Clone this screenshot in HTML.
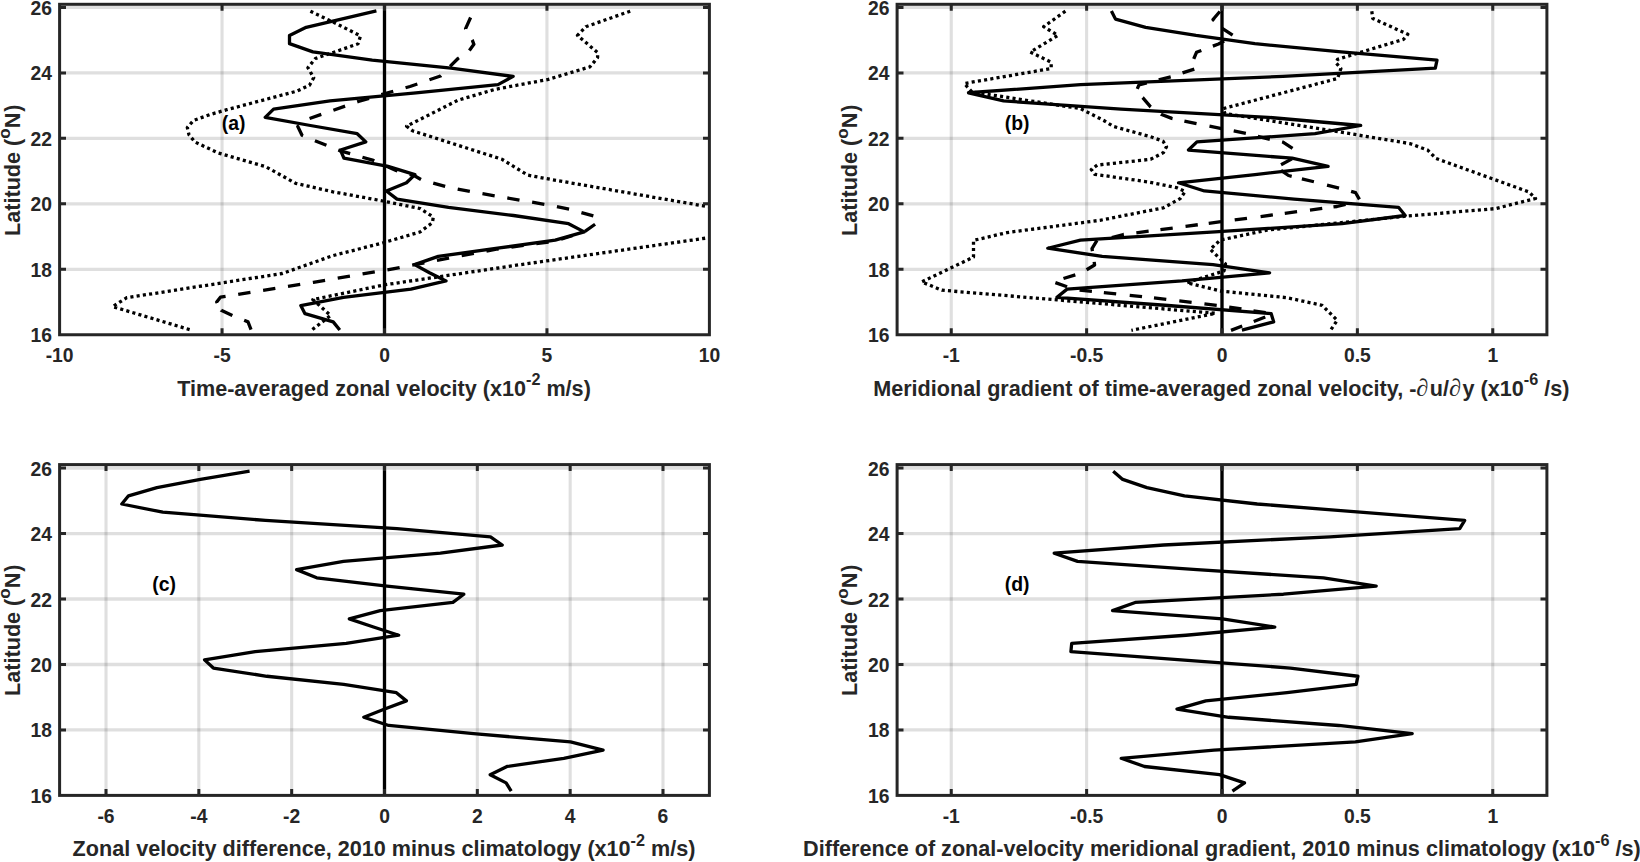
<!DOCTYPE html>
<html lang="en"><head><meta charset="utf-8"><title>Zonal velocity figure</title>
<style>html,body{margin:0;padding:0;background:#fff;}body{width:1640px;height:862px;overflow:hidden;}svg{display:block;}text{font-family:"Liberation Sans", sans-serif;font-weight:bold;fill:#262626;}.pd{font-family:"Liberation Serif","DejaVu Serif",serif;font-weight:normal;font-size:24.5px;letter-spacing:1.4px;}.ax{stroke:#262626;stroke-width:3;fill:none;stroke-linecap:butt;}.gr{stroke:#262626;stroke-opacity:.15;stroke-width:3.3;fill:none;}.d{stroke:#000;stroke-width:3.3;fill:none;stroke-linejoin:round;stroke-linecap:butt;}.dot{stroke-dasharray:3.1 3.2;}.dash{stroke-dasharray:12.4 12.8;}.tk{font-size:19.3px;}.lb{font-size:21.6px;}.pl{font-size:19.4px;fill:#000;}</style></head><body>
<svg width="1640" height="862" viewBox="0 0 1640 862">
<rect x="0" y="0" width="1640" height="862" fill="#fff"/>
<defs>
<clipPath id="cpa"><rect x="59.6" y="4.3" width="649.8" height="330.45"/></clipPath>
<clipPath id="cpb"><rect x="897.1" y="4.3" width="649.8" height="330.45"/></clipPath>
<clipPath id="cpc"><rect x="59.6" y="464.6" width="649.8" height="330.8"/></clipPath>
<clipPath id="cpd"><rect x="897.1" y="464.6" width="649.8" height="330.8"/></clipPath>
</defs>
<g id="panel-a">
<path class="gr" style="stroke-width:3.1" d="M222.05 4.3V334.75M384.5 4.3V334.75M546.95 4.3V334.75"/>
<path class="gr" d="M59.6 269.29H709.4M59.6 203.83H709.4M59.6 138.37H709.4M59.6 72.91H709.4M59.6 7.45H709.4"/>
<g clip-path="url(#cpa)">
<polyline class="d dot" points="310.4,11.2 335,23 360.5,35.9 358,43.8 336,51.5 315.4,58.5 307.9,67.7 313.7,77.7 309.5,85.2 297,91.1 226.8,109.7 210.1,114.5 193.5,120.5 187.3,127.5 189,134.8 195,142 218,152.9 265.5,166.6 295.6,183.3 333,191.8 383,201 420,208.5 433.3,217 432.4,222.7 420,232 383,242.8 333,255.6 282.2,273.5 126.8,297.7 112.6,306.6 192,330.3"/>
<polyline class="d dot" points="630.2,11.2 585.9,26.7 577.5,35.4 597.6,52.6 597.6,57.6 590,66.8 548.3,79.4 494.8,89.4 458,100.2 406.6,126.2 412.5,130.8 501.8,159.2 527.7,175.1 545.5,178.5 707.6,206.6 803,223.2 707.6,237.9 520,264.7 500,267.7 384.2,284.9 312.8,299.6 330.6,315.5 310.8,330.8"/>
<path class="d" d="M470.6 17.5L465.6 28.7L465.67 28.82M472.15 39.85L472.3 40.1L473.9 44.3L469.34 50.4M458.97 57.83L458 58.5L450.06 66.44M441.01 75.49L440.5 76L429.46 79.8M417.36 83.97L410 86.5L405.55 87.76M393.24 91.24L381.3 94.61M369.05 98.3L358.4 101.5L357.19 101.92M345.1 106.12L333.39 110.2M321.3 114.4L309.58 118.47M299.01 125.67L297.8 126.5L302 135.3L303.1 135.76M314.92 140.67L316.2 141.2L326.43 145.28M338.31 150.03L340.5 150.9L350.15 153.69M362.45 157.24L373.4 160.4L374.32 160.81M386.02 165.98L396 170.4L397.43 170.82M409.7 174.46L414.9 176L420.97 179.44M433.23 183.06L445.17 186.4M457.69 189.01L469.86 191.43M482.46 193.67L494.68 195.79M507.29 197.98L519.5 200.1M532.13 202.21L544.36 204.26M556.92 206.73L569.08 209.16M581.42 212.54L593.35 215.9M595.08 224.28L584.98 231.46M572.86 235.5L561.04 239.25M548.59 242.01L536.3 243.69M523.62 245.43L511.33 247.12M498.65 248.86L497.6 249L486.45 251.07M473.87 253.42L461.68 255.68M449.1 258.03L448.7 258.1L436.93 260.4M424.36 262.86L412.19 265.24M399.63 267.69L399.6 267.7L387.41 269.77M374.79 271.9L362.56 273.97M349.94 276.11L337.71 278.18M325.09 280.32L313.4 282.3L312.87 282.39M300.23 284.41L287.98 286.37M275.35 288.4L263.1 290.36M250.46 292.38L238.22 294.35M225.58 296.37L220.4 297.2L216.7 301.9L217.26 302.93M221.17 310.14L221.2 310.2L232.37 315.43M244.18 320.34L248 321.9L251.03 329.61"/>
<polyline class="d" points="376.4,10.94 341.3,19.13 306.2,27.31 289.5,35.49 289.5,43.67 312.9,51.86 372.2,60.04 451,68.22 513.2,76.4 498,84.59 416,92.77 330,100.95 273.6,109.13 265.2,117.32 310.4,125.5 357.2,133.68 365.8,141.86 340.5,150.05 343.9,158.23 388,166.41 414.9,174.59 406.5,182.78 386.4,190.96 397,199.14 448.5,207.32 513.5,215.51 568.6,223.69 584.2,231.87 555.2,240.05 497.6,248.24 438.3,256.42 414.6,264.6 429.5,272.78 446,280.97 411,289.15 343.5,297.33 300.8,305.51 305,313.69 333.2,321.88 339.8,330.06"/>
<path class="d" d="M384.5 4.3V334.75"/>
</g>
<path class="ax" d="M222.05 334.75v-6.4M222.05 4.3v6.4M384.5 334.75v-6.4M384.5 4.3v6.4M546.95 334.75v-6.4M546.95 4.3v6.4M59.6 269.29h6.4M709.4 269.29h-6.4M59.6 203.83h6.4M709.4 203.83h-6.4M59.6 138.37h6.4M709.4 138.37h-6.4M59.6 72.91h6.4M709.4 72.91h-6.4M59.6 7.45h6.4M709.4 7.45h-6.4"/>
<rect class="ax" x="59.6" y="4.3" width="649.8" height="330.45"/>
<text class="tk" text-anchor="middle" x="59.6" y="362.15">-10</text>
<text class="tk" text-anchor="middle" x="222.05" y="362.15">-5</text>
<text class="tk" text-anchor="middle" x="384.5" y="362.15">0</text>
<text class="tk" text-anchor="middle" x="546.95" y="362.15">5</text>
<text class="tk" text-anchor="middle" x="709.4" y="362.15">10</text>
<text class="tk" text-anchor="end" x="52" y="342.25">16</text>
<text class="tk" text-anchor="end" x="52" y="276.79">18</text>
<text class="tk" text-anchor="end" x="52" y="211.33">20</text>
<text class="tk" text-anchor="end" x="52" y="145.87">22</text>
<text class="tk" text-anchor="end" x="52" y="80.41">24</text>
<text class="tk" text-anchor="end" x="52" y="14.95">26</text>
<text class="lb" text-anchor="middle" x="384" y="395.7">Time-averaged zonal velocity (x10<tspan dy="-10.4" font-size="16.2">-2</tspan><tspan dy="10.4"> m/s)</tspan></text>
<text class="lb" text-anchor="middle" transform="translate(19.8 170.22) rotate(-90)">Latitude (<tspan dy="-9.4" font-size="17.2">o</tspan><tspan dy="9.4">N</tspan><tspan dx="0.9">)</tspan></text>
<text class="pl" fill="#000" text-anchor="middle" x="233.65" y="130.1">(a)</text>
</g>
<g id="panel-b">
<path class="gr" style="stroke-width:3.1" d="M951.25 4.3V334.75M1086.62 4.3V334.75M1222 4.3V334.75M1357.38 4.3V334.75M1492.75 4.3V334.75"/>
<path class="gr" d="M897.1 269.29H1546.9M897.1 203.83H1546.9M897.1 138.37H1546.9M897.1 72.91H1546.9M897.1 7.45H1546.9"/>
<g clip-path="url(#cpb)">
<polyline class="d dot" points="1065.4,11.2 1043.7,26.7 1057.9,35.4 1030.3,52.1 1051.2,62.2 1051.2,68.5 964.3,83.5 971.8,91.9 1080.5,108.6 1103.8,120.5 1113.5,126.5 1150.6,136.7 1163,141.2 1166.5,146.7 1163.5,152.5 1150.6,159.3 1097.2,165.1 1091.3,169.5 1094.7,174.3 1147.3,181.8 1176.9,187.7 1185.2,191.5 1180.2,198.6 1163.5,207.8 1100,220.3 1006.9,232.6 973.5,240.4 973.5,257.1 921.7,281.9 941.8,290.2 1057.1,299.9 1215.5,313.3 1131.4,330.3"/>
<polyline class="d dot" points="1371.8,11.2 1372.7,18.4 1407.8,34.3 1403.6,39.3 1337.6,59.3 1335.9,62.7 1340.9,68.5 1337.6,78.5 1223.1,108.6 1225,113.5 1340,132 1410.3,143.7 1427.7,150.1 1436.1,158.5 1528.8,191.9 1535.5,198.5 1495.4,208.6 1406.8,216.1 1267,230.1 1220.2,240.1 1210.2,249.3 1225.5,264 1224,271 1186.8,282.7 1220.2,291 1287.1,297.7 1322.1,305.3 1337.2,320.3 1330.5,330.3"/>
<path class="d" d="M1219.87 11.45L1213 19.5L1214.29 20.78M1222.23 28.37L1232.63 35.12M1224.16 41.08L1218.5 44L1212.86 46.13M1201.35 50.47L1196.5 52.3L1193.9 58.5L1193.72 58.96M1194.31 69.06L1182.52 72.93M1170.74 76.79L1170.7 76.8L1158.74 79.89M1146.83 82.98L1139 85L1137.23 88.93M1142.67 97.58L1142.7 97.6L1150.6 106.9L1150.73 106.99M1160.96 114.17L1161 114.2L1171.8 118.4L1172.55 118.55M1184.39 121.01L1196.54 123.53M1209.47 126.19L1221.63 128.59M1233.7 130.98L1245.86 133.38M1257.81 136.29L1269 139.2L1269.82 139.38M1282.04 141.99L1283 142.2L1292.55 148.46M1291.94 158.9L1281.02 164.77M1281 170.31L1288.5 175.5L1291.69 176.28M1301.88 178.79L1313.92 181.75M1327.01 185.07L1339.01 188.19M1351.11 191.33L1355.6 192.7L1359.43 199.38M1345.57 204.41L1337 206.5L1333.45 206.96M1322.25 208.43L1309.96 210.05M1297.07 211.73L1284.77 213.35M1272.87 214.91L1260.58 216.52M1246.99 218.3L1234.7 219.91M1221.02 221.7L1208.72 223.32M1197.81 224.75L1185.52 226.36M1172.73 228.03L1160.43 229.65M1148.64 231.19L1136.34 232.8M1123.85 234.44L1123.4 234.5L1111.83 237.49M1097.21 240.36L1097 240.4L1092 248.6L1092.46 251.14M1094.18 261.9L1094.6 265L1086.63 269.74M1075.33 274.86L1063.48 278.54M1055.38 282.63L1067.08 286.73M1079.59 289.99L1091.92 291.3M1103.85 292.57L1116.18 293.89M1129.7 295.33L1142.03 296.64M1153.96 297.93L1166.28 299.37M1179.29 300.9L1191.61 302.34M1204.42 303.84L1216.73 305.28M1229.21 307.03L1241.46 308.94M1253.42 310.8L1265.67 312.72M1265.27 316.91L1253.75 321.5M1242.21 326.02L1231 330.4"/>
<polyline class="d" points="1111.4,10.94 1115.5,19.13 1145.6,27.31 1196,35.49 1254.9,43.67 1341.1,51.86 1437,60.04 1435.3,68.22 1283,76.4 1080.5,84.59 968.5,92.77 1003.6,100.95 1121,109.13 1268,117.32 1360.7,125.5 1315,133.68 1196.9,141.86 1188.5,150.05 1292.1,158.23 1328.1,166.41 1255,174.59 1178.5,182.78 1204.4,190.96 1294,199.14 1398.5,207.32 1405.2,215.51 1342,223.69 1215,231.87 1080.5,240.05 1047.8,248.24 1102.2,256.42 1213,264.6 1269.6,272.78 1182,280.97 1067.1,289.15 1057,297.33 1168,305.51 1271.2,313.69 1273.7,321.88 1241.9,330.06"/>
<path class="d" d="M1222 4.3V334.75"/>
</g>
<path class="ax" d="M951.25 334.75v-6.4M951.25 4.3v6.4M1086.62 334.75v-6.4M1086.62 4.3v6.4M1222 334.75v-6.4M1222 4.3v6.4M1357.38 334.75v-6.4M1357.38 4.3v6.4M1492.75 334.75v-6.4M1492.75 4.3v6.4M897.1 269.29h6.4M1546.9 269.29h-6.4M897.1 203.83h6.4M1546.9 203.83h-6.4M897.1 138.37h6.4M1546.9 138.37h-6.4M897.1 72.91h6.4M1546.9 72.91h-6.4M897.1 7.45h6.4M1546.9 7.45h-6.4"/>
<rect class="ax" x="897.1" y="4.3" width="649.8" height="330.45"/>
<text class="tk" text-anchor="middle" x="951.25" y="362.15">-1</text>
<text class="tk" text-anchor="middle" x="1086.62" y="362.15">-0.5</text>
<text class="tk" text-anchor="middle" x="1222" y="362.15">0</text>
<text class="tk" text-anchor="middle" x="1357.38" y="362.15">0.5</text>
<text class="tk" text-anchor="middle" x="1492.75" y="362.15">1</text>
<text class="tk" text-anchor="end" x="889.5" y="342.25">16</text>
<text class="tk" text-anchor="end" x="889.5" y="276.79">18</text>
<text class="tk" text-anchor="end" x="889.5" y="211.33">20</text>
<text class="tk" text-anchor="end" x="889.5" y="145.87">22</text>
<text class="tk" text-anchor="end" x="889.5" y="80.41">24</text>
<text class="tk" text-anchor="end" x="889.5" y="14.95">26</text>
<text class="lb" text-anchor="middle" x="1221.3" y="395.7">Meridional gradient of time-averaged zonal velocity, -<tspan class="pd">∂</tspan>u/<tspan class="pd">∂</tspan>y (x10<tspan dy="-10.4" font-size="16.2">-6</tspan><tspan dy="10.4"> /s)</tspan></text>
<text class="lb" text-anchor="middle" transform="translate(857.3 170.22) rotate(-90)">Latitude (<tspan dy="-9.4" font-size="17.2">o</tspan><tspan dy="9.4">N</tspan><tspan dx="0.9">)</tspan></text>
<text class="pl" fill="#000" text-anchor="middle" x="1017.2" y="130">(b)</text>
</g>
<g id="panel-c">
<path class="gr" style="stroke-width:3.1" d="M106.01 464.6V795.4M198.84 464.6V795.4M291.67 464.6V795.4M384.5 464.6V795.4M477.33 464.6V795.4M570.16 464.6V795.4M662.99 464.6V795.4"/>
<path class="gr" d="M59.6 729.94H709.4M59.6 664.48H709.4M59.6 599.02H709.4M59.6 533.56H709.4M59.6 468.1H709.4"/>
<g clip-path="url(#cpc)">
<polyline class="d" points="249.6,471.18 200.4,479.39 156.9,487.59 128.5,495.79 121.8,504 162.8,512.2 265.5,520.4 397,528.6 490.5,536.81 502.2,545.01 440.4,553.21 343.5,561.42 296.6,569.62 316.7,577.82 387,586.03 463.8,594.23 452.9,602.43 380.2,610.63 349.3,618.84 373.5,627.04 398.7,635.24 346.2,643.45 255.2,651.65 204.5,659.85 213.4,668.06 266.9,676.26 343.7,684.46 396.4,692.66 406.4,700.87 384.7,709.07 363.8,717.27 388.7,725.48 473.6,733.68 570.5,741.88 603.1,750.09 563.8,758.29 507,766.49 490.2,774.69 506.1,782.9 511.2,791.1"/>
<path class="d" d="M384.5 464.6V795.4"/>
</g>
<path class="ax" d="M106.01 795.4v-6.4M106.01 464.6v6.4M198.84 795.4v-6.4M198.84 464.6v6.4M291.67 795.4v-6.4M291.67 464.6v6.4M384.5 795.4v-6.4M384.5 464.6v6.4M477.33 795.4v-6.4M477.33 464.6v6.4M570.16 795.4v-6.4M570.16 464.6v6.4M662.99 795.4v-6.4M662.99 464.6v6.4M59.6 729.94h6.4M709.4 729.94h-6.4M59.6 664.48h6.4M709.4 664.48h-6.4M59.6 599.02h6.4M709.4 599.02h-6.4M59.6 533.56h6.4M709.4 533.56h-6.4M59.6 468.1h6.4M709.4 468.1h-6.4"/>
<rect class="ax" x="59.6" y="464.6" width="649.8" height="330.8"/>
<text class="tk" text-anchor="middle" x="106.01" y="822.8">-6</text>
<text class="tk" text-anchor="middle" x="198.84" y="822.8">-4</text>
<text class="tk" text-anchor="middle" x="291.67" y="822.8">-2</text>
<text class="tk" text-anchor="middle" x="384.5" y="822.8">0</text>
<text class="tk" text-anchor="middle" x="477.33" y="822.8">2</text>
<text class="tk" text-anchor="middle" x="570.16" y="822.8">4</text>
<text class="tk" text-anchor="middle" x="662.99" y="822.8">6</text>
<text class="tk" text-anchor="end" x="52" y="802.9">16</text>
<text class="tk" text-anchor="end" x="52" y="737.44">18</text>
<text class="tk" text-anchor="end" x="52" y="671.98">20</text>
<text class="tk" text-anchor="end" x="52" y="606.52">22</text>
<text class="tk" text-anchor="end" x="52" y="541.06">24</text>
<text class="tk" text-anchor="end" x="52" y="475.6">26</text>
<text class="lb" text-anchor="middle" x="384" y="856.35">Zonal velocity difference, 2010 minus climatology (x10<tspan dy="-10.4" font-size="16.2">-2</tspan><tspan dy="10.4"> m/s)</tspan></text>
<text class="lb" text-anchor="middle" transform="translate(19.8 630.2) rotate(-90)">Latitude (<tspan dy="-9.4" font-size="17.2">o</tspan><tspan dy="9.4">N</tspan><tspan dx="0.9">)</tspan></text>
<text class="pl" fill="#000" text-anchor="middle" x="164.1" y="590.5">(c)</text>
</g>
<g id="panel-d">
<path class="gr" style="stroke-width:3.1" d="M951.25 464.6V795.4M1086.62 464.6V795.4M1222 464.6V795.4M1357.38 464.6V795.4M1492.75 464.6V795.4"/>
<path class="gr" d="M897.1 729.94H1546.9M897.1 664.48H1546.9M897.1 599.02H1546.9M897.1 533.56H1546.9M897.1 468.1H1546.9"/>
<g clip-path="url(#cpd)">
<polyline class="d" points="1113.2,471.18 1122.7,479.39 1146.9,487.59 1184.5,495.79 1257.2,504 1360.2,512.2 1464.7,520.4 1459.7,528.6 1330,536.81 1163.6,545.01 1054.2,553.21 1077.6,561.42 1197,569.62 1323.5,577.82 1376.2,586.03 1283.4,594.23 1135.2,602.43 1112.6,610.63 1222.5,618.84 1274.8,627.04 1186,635.24 1071.7,643.45 1070.9,651.65 1181,659.85 1290.4,668.06 1357.9,676.26 1356.2,684.46 1287,692.66 1205.8,700.87 1177,709.07 1228.8,717.27 1338.7,725.48 1412.2,733.68 1355.4,741.88 1214,750.09 1121.2,758.29 1144.5,766.49 1219.5,774.69 1244.5,782.9 1232.4,791.1"/>
<path class="d" d="M1222 464.6V795.4"/>
</g>
<path class="ax" d="M951.25 795.4v-6.4M951.25 464.6v6.4M1086.62 795.4v-6.4M1086.62 464.6v6.4M1222 795.4v-6.4M1222 464.6v6.4M1357.38 795.4v-6.4M1357.38 464.6v6.4M1492.75 795.4v-6.4M1492.75 464.6v6.4M897.1 729.94h6.4M1546.9 729.94h-6.4M897.1 664.48h6.4M1546.9 664.48h-6.4M897.1 599.02h6.4M1546.9 599.02h-6.4M897.1 533.56h6.4M1546.9 533.56h-6.4M897.1 468.1h6.4M1546.9 468.1h-6.4"/>
<rect class="ax" x="897.1" y="464.6" width="649.8" height="330.8"/>
<text class="tk" text-anchor="middle" x="951.25" y="822.8">-1</text>
<text class="tk" text-anchor="middle" x="1086.62" y="822.8">-0.5</text>
<text class="tk" text-anchor="middle" x="1222" y="822.8">0</text>
<text class="tk" text-anchor="middle" x="1357.38" y="822.8">0.5</text>
<text class="tk" text-anchor="middle" x="1492.75" y="822.8">1</text>
<text class="tk" text-anchor="end" x="889.5" y="802.9">16</text>
<text class="tk" text-anchor="end" x="889.5" y="737.44">18</text>
<text class="tk" text-anchor="end" x="889.5" y="671.98">20</text>
<text class="tk" text-anchor="end" x="889.5" y="606.52">22</text>
<text class="tk" text-anchor="end" x="889.5" y="541.06">24</text>
<text class="tk" text-anchor="end" x="889.5" y="475.6">26</text>
<text class="lb" text-anchor="middle" x="1221.9" y="856.35">Difference of zonal-velocity meridional gradient, 2010 minus climatology (x10<tspan dy="-10.4" font-size="16.2">-6</tspan><tspan dy="10.4"> /s)</tspan></text>
<text class="lb" text-anchor="middle" transform="translate(857.3 630.2) rotate(-90)">Latitude (<tspan dy="-9.4" font-size="17.2">o</tspan><tspan dy="9.4">N</tspan><tspan dx="0.9">)</tspan></text>
<text class="pl" fill="#000" text-anchor="middle" x="1017.2" y="590.5">(d)</text>
</g>
</svg></body></html>
